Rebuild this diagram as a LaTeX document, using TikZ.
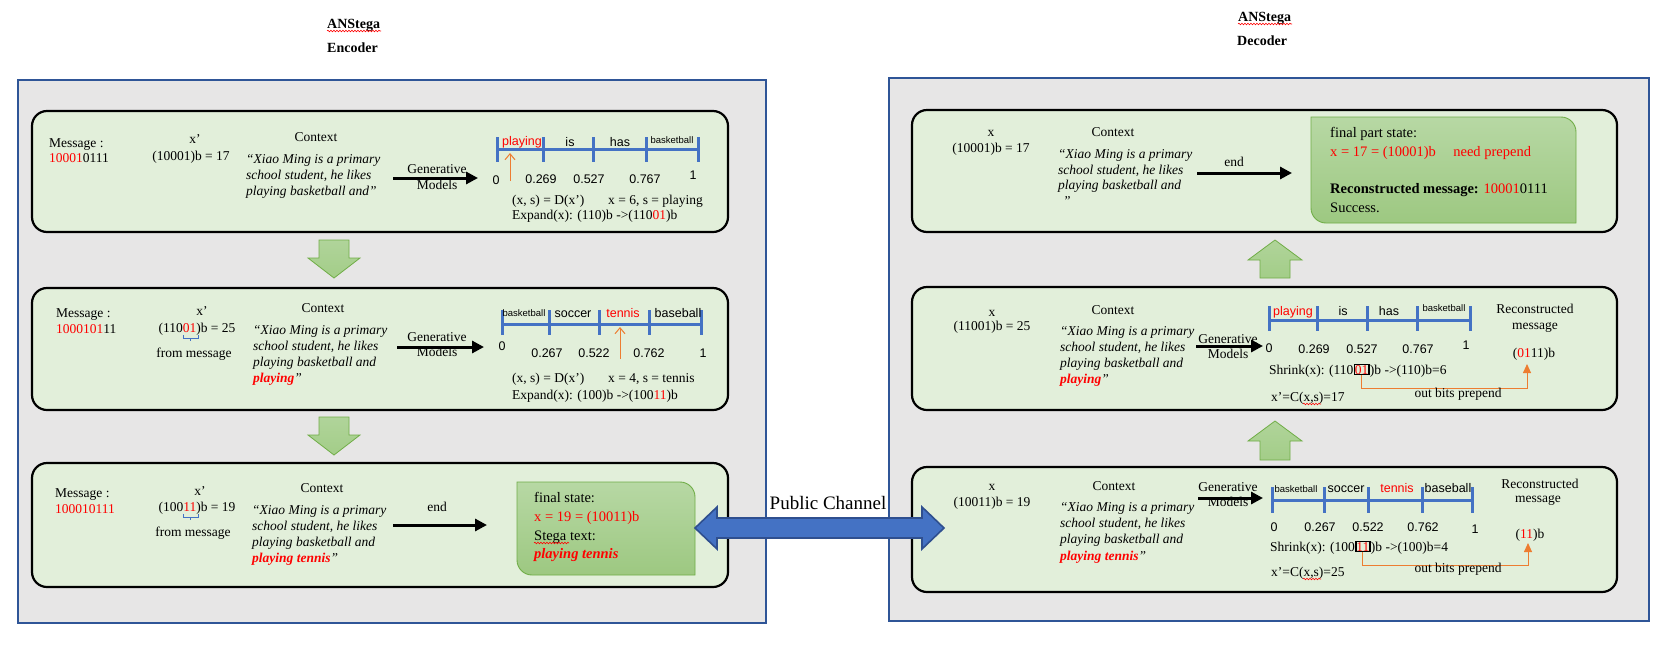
\documentclass[tikz,border=0pt]{standalone}
\usepackage{fontspec}
\setmainfont{Liberation Serif}
\newfontfamily\sansf{Liberation Sans}
\usetikzlibrary{arrows.meta,decorations.pathmorphing}
\definecolor{panelfill}{HTML}{E7E6E6}
\definecolor{panelline}{HTML}{2F5597}
\definecolor{boxfill}{HTML}{E2EFDA}
\definecolor{nlblue}{HTML}{4472C4}
\definecolor{orng}{HTML}{ED7D31}
\definecolor{grnline}{HTML}{70AD47}
\definecolor{grntop}{HTML}{B7D8A4}
\definecolor{grnbot}{HTML}{9DC881}
\definecolor{arrtop}{HTML}{B0D49A}
\definecolor{arrbot}{HTML}{A3CD88}
\definecolor{navy}{HTML}{2F4F8F}
\newcommand\mfs{\fontsize{13.5}{16}\selectfont}
\newcommand\bfs{\fontsize{14.5}{18}\selectfont}
\newcommand\nfs{\sansf\fontsize{12.5}{14}\selectfont}
\newcommand\sfs{\sansf\fontsize{9.5}{11}\selectfont}
\newcommand\tfs{\fontsize{14}{16}\selectfont\bfseries}
\tikzset{
  panel/.style={draw=panelline, line width=1.5pt, fill=panelfill},
  stage/.style={draw=black, line width=2.2pt, fill=boxfill, rounded corners=15pt, inner sep=0pt},
  tx/.style={font=\mfs, inner sep=0pt, anchor=base},
  txl/.style={font=\mfs, inner sep=0pt, anchor=base west},
  ctxl/.style={font=\mfs\itshape, inner sep=0pt, anchor=base west},
  stl/.style={font=\bfs, inner sep=0pt, anchor=base west},
  ttl/.style={font=\tfs, inner sep=0pt, anchor=base west},
  nlab/.style={font=\nfs, inner sep=0pt, anchor=base},
  slab/.style={font=\sfs, inner sep=0pt, anchor=base},
  nline/.style={draw=nlblue, line width=3pt},
  genarrow/.style={draw=black, line width=3pt, -{Triangle[length=12pt,width=12pt]}},
  orarrow/.style={draw=orng, line width=1pt, -{Straight Barb[length=6pt,width=10pt]}},
  orconn/.style={draw=orng, line width=1pt, -{Triangle[length=9pt,width=8pt]}},
  blockarrow/.style={draw=grnline, line width=0.8pt, top color=arrtop, bottom color=arrbot},
  statebox/.style={draw=grnline, line width=0.9pt, top color=grntop, bottom color=grnbot},
  dblarrow/.style={draw=navy, line width=1.6pt, fill=nlblue},
  squig/.style={draw=red, line width=0.6pt, decorate, decoration={snake, amplitude=0.8pt, segment length=3pt}},
  bitbox/.style={draw=black, line width=1.6pt, inner sep=0.5pt, anchor=base west, font=\mfs, text=red},
  bracemark/.style={draw=nlblue, line width=0.9pt},
}
\begin{document}
\begin{tikzpicture}[x=1pt,y=-1pt]
\fill[white] (0,0) rectangle (1662,654);
\useasboundingbox (0,0) rectangle (1662,654);

% ---------- titles ----------
\node[ttl] (te1) at (327,28) {ANStega};
\node[ttl] (te2) at (327,52) {Encoder};
\node[ttl] (td1) at (1238,21) {ANStega};
\node[ttl] (td2) at (1237,45) {Decoder};
\draw[squig] (327,31) -- (381,31);
\draw[squig] (1238,24) -- (1292,24);

% ---------- panels ----------
\draw[panel] (18,80) rectangle (766,623);
\draw[panel] (889,78) rectangle (1649,621);

% ---------- stage boxes ----------
\node[stage, minimum width=696pt, minimum height=121pt] (e1) at (380,171.5) {};
\node[stage, minimum width=696pt, minimum height=122pt] (e2) at (380,349) {};
\node[stage, minimum width=696pt, minimum height=124pt] (e3) at (380,525) {};
\node[stage, minimum width=705pt, minimum height=122pt] (d1) at (1264.5,171) {};
\node[stage, minimum width=705pt, minimum height=123pt] (d2) at (1264.5,348.5) {};
\node[stage, minimum width=705pt, minimum height=125pt] (d3) at (1264.5,529.5) {};

% ---------- block arrows between stages ----------
\draw[blockarrow] (319,240) -- (349,240) -- (349,258) -- (360,258) -- (334,278) -- (308,258) -- (319,258) -- cycle;
\draw[blockarrow] (319,417) -- (349,417) -- (349,435) -- (360,435) -- (334,455) -- (308,435) -- (319,435) -- cycle;
\draw[blockarrow] (1260,278) -- (1290,278) -- (1290,260) -- (1302,260) -- (1275,240) -- (1248,260) -- (1260,260) -- cycle;
\draw[blockarrow] (1260,460) -- (1290,460) -- (1290,441) -- (1302,441) -- (1275,421) -- (1248,441) -- (1260,441) -- cycle;

% ================= ENCODER BOX 1 =================
\node[txl] (m1a) at (49,147) {Message :};
\node[txl] (m1b) at (49,162) {\textcolor{red}{10001}0111};
\node[tx] (xp1) at (195,143) {x'};
\node[tx] (xv1) at (191,160) {(10001)b = 17};
\node[tx] (cx1) at (316,141) {Context};
\node[ctxl] (q1a) at (246,163) {“Xiao Ming is a primary};
\node[ctxl] (q1b) at (246,179) {school student, he likes};
\node[ctxl] (q1c) at (246,195) {playing basketball and”};
\coordinate (g1s) at (393,178); \coordinate (g1e) at (478,178);
\draw[genarrow] (g1s) -- (g1e);
\node[tx] (g1t) at (437,173) {Generative};
\node[tx] (g1m) at (437,189) {Models};
\draw[nline] (497,149) -- (698,149);
\foreach \t in {497,543,593,646,698} \draw[nline] (\t,137) -- (\t,162);
\node[nlab, text=red] (l1a) at (522,145) {playing};
\node[nlab] (l1b) at (570,146) {is};
\node[nlab] (l1c) at (620,146) {has};
\node[slab] (l1d) at (672,143) {basketball};
\node[nlab] (n1a) at (496,184) {0};
\node[nlab] (n1b) at (541,183) {0.269};
\node[nlab] (n1c) at (589,183) {0.527};
\node[nlab] (n1d) at (645,183) {0.767};
\node[nlab] (n1e) at (693,179) {1};
\coordinate (o1s) at (510,181); \coordinate (o1e) at (510,153);
\draw[orarrow] (o1s) -- (o1e);
\node[txl] (dx1) at (512,204) {(x, s) = D(x’)};
\node[txl] (dr1) at (608,204) {x = 6, s = playing};
\node[txl] (ex1) at (512,219) {Expand(x): (110)b ->(110\textcolor{red}{01})b};

% ================= ENCODER BOX 2 =================
\node[txl] (m2a) at (56,317) {Message :};
\node[txl] (m2b) at (56,333) {\textcolor{red}{1000101}11};
\node[tx] (xp2) at (202,315) {x'};
\node[tx] (xv2) at (197,332) {(110\textcolor{red}{01})b = 25};
\draw[bracemark] (183,335) |- (190.5,338) -- (190.5,341);
\draw[bracemark] (198,335) |- (190.5,338);
\node[tx] (fm2) at (194,357) {from message};
\node[tx] (cx2) at (323,312) {Context};
\node[ctxl] (q2a) at (253,334) {“Xiao Ming is a primary};
\node[ctxl] (q2b) at (253,350) {school student, he likes};
\node[ctxl] (q2c) at (253,366) {playing basketball and};
\node[ctxl] (q2d) at (253,382) {\textcolor{red}{\bfseries playing}”};
\coordinate (g2s) at (397,347); \coordinate (g2e) at (484,347);
\draw[genarrow] (g2s) -- (g2e);
\node[tx] (g2t) at (437,341) {Generative};
\node[tx] (g2m) at (437,356) {Models};
\draw[nline] (502,324) -- (701,324);
\foreach \t in {502,549,599,649,701} \draw[nline] (\t,310) -- (\t,335);
\node[slab] (l2a) at (524,316) {basketball};
\node[nlab] (l2b) at (573,317) {soccer};
\node[nlab, text=red] (l2c) at (623,317) {tennis};
\node[nlab] (l2d) at (678,317) {baseball};
\node[nlab] (n2a) at (502,350) {0};
\node[nlab] (n2b) at (547,357) {0.267};
\node[nlab] (n2c) at (594,357) {0.522};
\node[nlab] (n2d) at (649,357) {0.762};
\node[nlab] (n2e) at (703,357) {1};
\coordinate (o2s) at (620,359); \coordinate (o2e) at (620,327);
\draw[orarrow] (o2s) -- (o2e);
\node[txl] (dx2) at (512,382) {(x, s) = D(x’)};
\node[txl] (dr2) at (608,382) {x = 4, s = tennis};
\node[txl] (ex2) at (512,399) {Expand(x): (100)b ->(100\textcolor{red}{11})b};

% ================= ENCODER BOX 3 =================
\node[txl] (m3a) at (55,497) {Message :};
\node[txl] (m3b) at (55,513) {\textcolor{red}{100010111}};
\node[tx] (xp3) at (200,495) {x'};
\node[tx] (xv3) at (197,511) {(100\textcolor{red}{11})b = 19};
\draw[bracemark] (183,514) |- (190.5,517) -- (190.5,520);
\draw[bracemark] (198,514) |- (190.5,517);
\node[tx] (fm3) at (193,536) {from message};
\node[tx] (cx3) at (322,492) {Context};
\node[ctxl] (q3a) at (252,514) {“Xiao Ming is a primary};
\node[ctxl] (q3b) at (252,530) {school student, he likes};
\node[ctxl] (q3c) at (252,546) {playing basketball and};
\node[ctxl] (q3d) at (252,562) {\textcolor{red}{\bfseries playing tennis}”};
\node[tx] (en3) at (437,511) {end};
\draw[statebox] (606,482) [sharp corners] -- (517,482) [rounded corners=15pt] -- (517,575) [sharp corners] -- (695,575) [rounded corners=15pt] -- (695,482) -- cycle;
\node[inner sep=0pt, minimum width=178pt, minimum height=93pt] (fs) at (606,528.5) {};
\coordinate (a3s) at (393,525); \coordinate (a3e) at (487,525);
\draw[genarrow] (a3s) -- (a3e);
\node[stl] (fs1) at (534,502) {final state:};
\node[stl, text=red] (fs2) at (534,521) {x = 19 = (10011)b};
\node[stl] (fs3) at (534,540) {Stega text:};
\node[stl, text=red, font=\bfs\bfseries\itshape] (fs4) at (534,558) {playing tennis};
\draw[squig] (534,543) -- (569,543);

% ================= DECODER BOX 1 =================
\node[tx] (dxa1) at (991,136) {x};
\node[tx] (dxv1) at (991,152) {(10001)b = 17};
\node[tx] (dcx1) at (1113,136) {Context};
\node[ctxl] (dq1a) at (1058,158) {“Xiao Ming is a primary};
\node[ctxl] (dq1b) at (1058,174) {school student, he likes};
\node[ctxl] (dq1c) at (1058,189) {playing basketball and};
\node[ctxl] (dq1d) at (1063,205) {”};
\node[tx] (den1) at (1234,166) {end};
\draw[statebox] (1443,117) [sharp corners] -- (1311,117) [rounded corners=15pt] -- (1311,223) [sharp corners] -- (1576,223) [rounded corners=15pt] -- (1576,117) -- cycle;
\node[inner sep=0pt, minimum width=265pt, minimum height=106pt] (fps) at (1443.5,170) {};
\coordinate (a1s) at (1197,173); \coordinate (a1e) at (1292,173);
\draw[genarrow] (a1s) -- (a1e);
\node[stl] (fp1) at (1330,137) {final part state:};
\node[stl, text=red] (fp2) at (1330,156) {x = 17 = (10001)b\hspace{1.2em}need prepend};
\node[stl] (fp3) at (1330,193) {\textbf{Reconstructed message:} \textcolor{red}{10001}0111};
\node[stl] (fp4) at (1330,212) {Success.};

% ================= DECODER BOX 2 =================
\node[tx] (dxa2) at (992,316) {x};
\node[tx] (dxv2) at (992,330) {(11001)b = 25};
\node[tx] (dcx2) at (1113,314) {Context};
\node[ctxl] (dq2a) at (1060,335) {“Xiao Ming is a primary};
\node[ctxl] (dq2b) at (1060,351) {school student, he likes};
\node[ctxl] (dq2c) at (1060,367) {playing basketball and};
\node[ctxl] (dq2d) at (1060,383) {\textcolor{red}{\bfseries playing}”};
\coordinate (dg2s) at (1196,346); \coordinate (dg2e) at (1263,346);
\draw[genarrow] (dg2s) -- (dg2e);
\node[tx] (dg2t) at (1228,343) {Generative};
\node[tx] (dg2m) at (1228,358) {Models};
\draw[nline] (1269,320) -- (1470,320);
\foreach \t in {1269,1317,1367,1417,1470} \draw[nline] (\t,306) -- (\t,331);
\node[nlab, text=red] (dl2a) at (1293,315) {playing};
\node[nlab] (dl2b) at (1343,315) {is};
\node[nlab] (dl2c) at (1389,315) {has};
\node[slab] (dl2d) at (1444,311) {basketball};
\node[nlab] (dn2a) at (1269,352) {0};
\node[nlab] (dn2b) at (1314,353) {0.269};
\node[nlab] (dn2c) at (1362,353) {0.527};
\node[nlab] (dn2d) at (1418,353) {0.767};
\node[nlab] (dn2e) at (1466,349) {1};
\node[txl] (sh2a) at (1269,374) {Shrink(x): (110};
\node[bitbox] (bx2) at (sh2a.base east) {01};
\node[txl] (sh2c) at (bx2.base east) {)b ->(110)b=6};
\node[txl] (xc2) at (1271,401) {x’=C(x,s)=17};
\draw[squig] (1303,404) -- (1321,404);
\node[tx] (rc2a) at (1535,313) {Reconstructed};
\node[tx] (rc2b) at (1535,329) {message};
\node[tx] (rv2) at (1534,357) {(\textcolor{red}{01}11)b};
\coordinate (t2) at (1527,364);
\draw[orconn] (bx2.south) -- ++(0,13) -| (t2);
\node[tx] (ob2) at (1458,397) {out bits prepend};

% ================= DECODER BOX 3 =================
\node[tx] (dxa3) at (992,490) {x};
\node[tx] (dxv3) at (992,506) {(10011)b = 19};
\node[tx] (dcx3) at (1114,490) {Context};
\node[ctxl] (dq3a) at (1060,511) {“Xiao Ming is a primary};
\node[ctxl] (dq3b) at (1060,527) {school student, he likes};
\node[ctxl] (dq3c) at (1060,543) {playing basketball and};
\node[ctxl] (dq3d) at (1060,560) {\textcolor{red}{\bfseries playing tennis}”};
\coordinate (dg3s) at (1198,498); \coordinate (dg3e) at (1263,498);
\draw[genarrow] (dg3s) -- (dg3e);
\node[tx] (dg3t) at (1228,491) {Generative};
\node[tx] (dg3m) at (1228,506) {Models};
\draw[nline] (1272,500) -- (1472,500);
\foreach \t in {1272,1324,1368,1422,1472} \draw[nline] (\t,487) -- (\t,513);
\node[slab] (dl3a) at (1296,492) {basketball};
\node[nlab] (dl3b) at (1346,492) {soccer};
\node[nlab, text=red] (dl3c) at (1397,492) {tennis};
\node[nlab] (dl3d) at (1448,492) {baseball};
\node[nlab] (dn3a) at (1274,531) {0};
\node[nlab] (dn3b) at (1320,531) {0.267};
\node[nlab] (dn3c) at (1368,531) {0.522};
\node[nlab] (dn3d) at (1423,531) {0.762};
\node[nlab] (dn3e) at (1475,533) {1};
\node[txl] (sh3a) at (1270,551) {Shrink(x): (100};
\node[bitbox] (bx3) at (sh3a.base east) {11};
\node[txl] (sh3c) at (bx3.base east) {)b ->(100)b=4};
\node[txl] (xc3) at (1271,576) {x’=C(x,s)=25};
\draw[squig] (1303,579) -- (1321,579);
\node[tx] (rc3a) at (1540,488) {Reconstructed};
\node[tx] (rc3b) at (1538,502) {message};
\node[tx] (rv3) at (1530,538) {(\textcolor{red}{11})b};
\coordinate (t3) at (1528,543);
\draw[orconn] (bx3.south) -- ++(0,13) -| (t3);
\node[tx] (ob3) at (1458,572) {out bits prepend};

% ---------- public channel ----------
\draw[dblarrow] (695,528) -- (717,507) -- (717,518) -- (922,518) -- (922,507) -- (944,528) -- (922,549) -- (922,538) -- (717,538) -- (717,549) -- cycle;
\node[font=\fontsize{19}{22}\selectfont, inner sep=0pt] (pc) at (828,503) {Public Channel};
\end{tikzpicture}
\end{document}
